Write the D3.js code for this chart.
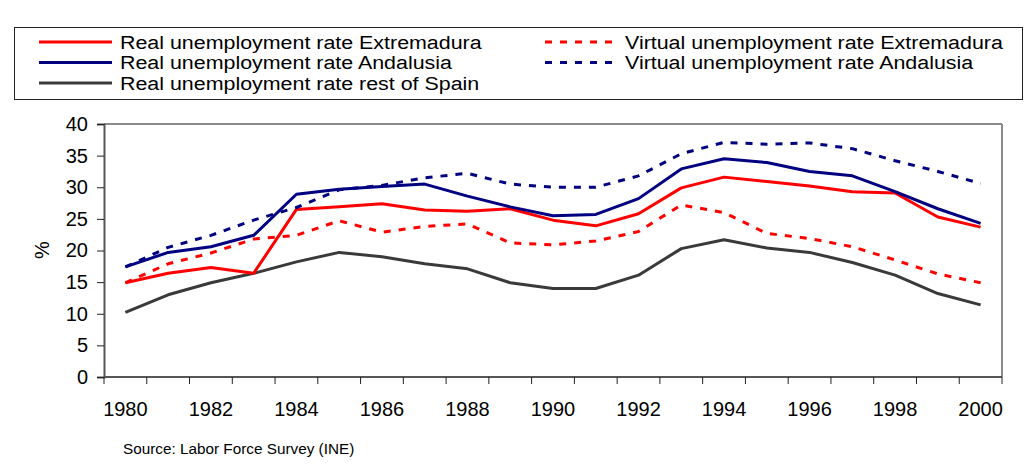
<!DOCTYPE html>
<html><head><meta charset="utf-8">
<script src="https://cdn.jsdelivr.net/npm/d3@7"></script>
<style>body{margin:0;background:#fff}svg{display:block;font-family:"Liberation Sans",Arial,sans-serif}</style>
</head><body><svg id="c" width="1025" height="467"></svg>
<script>
const years = [1980,1981,1982,1983,1984,1985,1986,1987,1988,1989,1990,1991,1992,1993,1994,1995,1996,1997,1998,1999,2000];
const realExtremadura = [14.9,16.4,17.3,16.4,26.5,26.9,27.4,26.4,26.2,26.6,24.8,23.9,25.8,29.9,31.6,30.9,30.2,29.3,29.1,25.3,23.7];
const virtualExtremadura = [14.9,17.9,19.6,21.8,22.4,24.7,22.9,23.8,24.2,21.2,20.9,21.5,23.0,27.2,26.0,22.7,21.9,20.6,18.5,16.3,14.9];
const realAndalusia = [17.4,19.7,20.6,22.4,28.9,29.7,30.1,30.5,28.6,26.9,25.5,25.7,28.2,32.9,34.5,33.9,32.5,31.8,29.3,26.6,24.3];
const virtualAndalusia = [17.4,20.5,22.4,24.8,26.8,29.6,30.3,31.5,32.2,30.5,30.0,30.0,31.8,35.3,37.1,36.8,37.0,36.1,34.2,32.5,30.6];
const realRestSpain = [10.2,13.0,14.9,16.4,18.2,19.7,19.0,17.9,17.1,14.9,14.0,14.0,16.1,20.3,21.7,20.4,19.7,18.1,16.1,13.2,11.4];
const yTicks = [0,5,10,15,20,25,30,35,40];
const seriesNames = ["Real unemployment rate Extremadura","Real unemployment rate Andalusia","Real unemployment rate rest of Spain","Virtual unemployment rate Extremadura","Virtual unemployment rate Andalusia"];

const series = [
  {name:seriesNames[0], values:realExtremadura, color:"#ff0000", dash:null, col:0,row:0},
  {name:seriesNames[1], values:realAndalusia, color:"#000080", dash:null, col:0,row:1},
  {name:seriesNames[2], values:realRestSpain, color:"#3a3a3a", dash:null, col:0,row:2},
  {name:seriesNames[3], values:virtualExtremadura, color:"#ff0000", dash:"7,8", col:1,row:0},
  {name:seriesNames[4], values:virtualAndalusia, color:"#000080", dash:"7,8", col:1,row:1}
];
const drawOrder = [2,3,0,4,1];

const svg = d3.select("#c");
const L=104,R=1002,T=124,B=377;
const x = d3.scaleBand().domain(years).range([L,R]).paddingInner(0).paddingOuter(0);
const y = d3.scaleLinear().domain([0,40]).range([B,T]);

// frame top/right
svg.append("line").attr("x1",L).attr("x2",R).attr("y1",T).attr("y2",T).attr("stroke","#8a8a8a").attr("stroke-width",2);
svg.append("line").attr("x1",R).attr("x2",R).attr("y1",T).attr("y2",B).attr("stroke","#8a8a8a").attr("stroke-width",2);

// y axis
const yAxis = svg.append("g").attr("transform",`translate(${L},0)`)
  .call(d3.axisLeft(y).tickValues(yTicks).tickSize(7).tickPadding(9));
yAxis.select(".domain").attr("stroke","#555").attr("stroke-width",2);
yAxis.selectAll(".tick line").attr("stroke","#222");
yAxis.selectAll("text").attr("font-size",20).attr("fill","#000").attr("font-family","Liberation Sans, Arial, sans-serif");

// x axis: ticks between categories
const xg = svg.append("g").attr("transform",`translate(0,${B})`);
xg.append("line").attr("x1",L).attr("x2",R).attr("stroke","#555").attr("stroke-width",2);
const bounds = years.map(d=>x(d)).concat([R]);
xg.selectAll(".tk").data(bounds).enter().append("line").attr("class","tk")
  .attr("x1",d=>d).attr("x2",d=>d).attr("y1",0).attr("y2",7).attr("stroke","#222");
xg.selectAll(".lb").data(years.filter(d=>d%2===0)).enter().append("text").attr("class","lb")
  .attr("x",d=>x(d)+x.bandwidth()/2).attr("y",39).attr("text-anchor","middle")
  .attr("font-size",20).attr("fill","#000").text(d=>d);

// % label
svg.append("text").attr("transform","translate(49,250) rotate(-90)").attr("text-anchor","middle")
  .attr("font-size",20).attr("fill","#000").text("%");

// lines
const line = d3.line().x((d,i)=>x(years[i])+x.bandwidth()/2).y(d=>y(d));
drawOrder.forEach(k=>{
  const s=series[k];
  svg.append("path").datum(s.values).attr("d",line).attr("fill","none")
    .attr("stroke",s.color).attr("stroke-width",3).attr("stroke-linejoin","round")
    .attr("stroke-dasharray",s.dash);
});

// legend
svg.append("rect").attr("x",14.5).attr("y",27.5).attr("width",1008).attr("height",72)
  .attr("fill","none").attr("stroke","#222").attr("stroke-width",1);
const colX=[{x1:39,x2:112,tx:120},{x1:545,x2:612,tx:625}];
const rowY=[42,62.5,83];
series.forEach(s=>{
  const c=colX[s.col], ry=rowY[s.row];
  svg.append("line").attr("x1",c.x1).attr("x2",c.x2).attr("y1",ry).attr("y2",ry)
    .attr("stroke",s.color).attr("stroke-width",3).attr("stroke-dasharray",s.dash);
  svg.append("text").attr("transform",`translate(${c.tx},${ry+6.5}) scale(1.19,1)`)
    .attr("font-size",18).attr("fill","#000").text(s.name);
});

// source
svg.append("text").attr("x",123).attr("y",454).attr("font-size",15.3).attr("fill","#000").text("Source: Labor Force Survey (INE)");
</script></body></html>
